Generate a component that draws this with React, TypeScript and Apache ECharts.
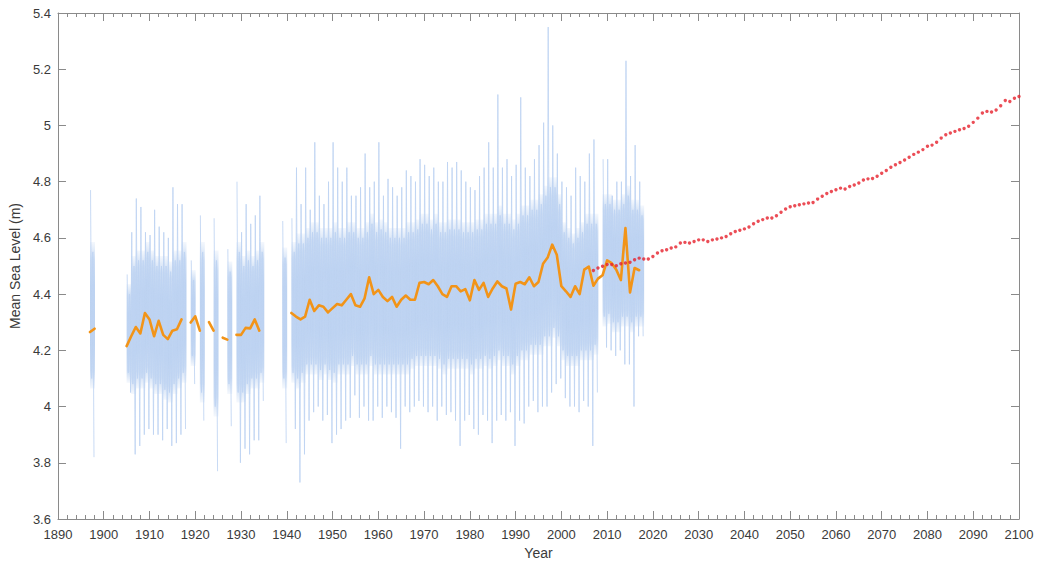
import React, { useEffect, useRef } from "react";
import * as echarts from "echarts";

// ---- Annual mean sea level (orange), years 1897..2017, null = no data ----
const obsStartYear = 1897;
const annualMean: (number | null)[] = [
  // 1897-1906
  4.265, 4.277, null, null, null, null, null, null, 4.215, 4.25,
  // 1907-1916
  4.283, 4.26, 4.333, 4.31, 4.25, 4.305, 4.255, 4.24, 4.27, 4.275,
  // 1917-1926
  4.31, null, 4.299, 4.321, 4.27, null, 4.3, 4.27, null, 4.245,
  // 1927-1936
  4.238, null, 4.255, 4.255, 4.28, 4.278, 4.31, 4.27, null, null,
  // 1937-1946
  null, null, null, null, 4.333, 4.32, 4.31, 4.32, 4.38, 4.34,
  // 1947-1956
  4.36, 4.355, 4.335, 4.35, 4.365, 4.36, 4.38, 4.4, 4.36, 4.355,
  // 1957-1966
  4.385, 4.46, 4.4, 4.415, 4.39, 4.375, 4.39, 4.355, 4.38, 4.395,
  // 1967-1976
  4.38, 4.38, 4.44, 4.443, 4.435, 4.45, 4.428, 4.4, 4.39, 4.428,
  // 1977-1986
  4.428, 4.41, 4.418, 4.378, 4.45, 4.415, 4.44, 4.39, 4.42, 4.445,
  // 1987-1996
  4.428, 4.42, 4.345, 4.437, 4.443, 4.435, 4.46, 4.428, 4.443, 4.508,
  // 1997-2006
  4.53, 4.576, 4.54, 4.428, 4.41, 4.39, 4.428, 4.4, 4.487, 4.498,
  // 2007-2016
  4.43, 4.455, 4.467, 4.52, 4.51, 4.487, 4.45, 4.635, 4.406, 4.493,
  // 2017
  4.485,
];

// ---- High-frequency record (light blue): yearly extremes and dense band ----
const blueMax: (number | null)[] = [
  4.77, null, null, null, null, null, null, null, 4.47, 4.62,
  4.74, 4.71, 4.62, 4.61, 4.7, 4.64, 4.62, 4.6, 4.78, 4.72,
  4.72, null, 4.52, null, 4.68, null, null, 4.67, null, null,
  4.56, null, 4.8, 4.62, 4.72, 4.65, 4.68, 4.75, null, null,
  null, null, 4.66, null, 4.67, 4.85, 4.72, 4.85, 4.7, 4.94,
  4.75, 4.72, 4.8, 4.94, 4.85, 4.8, 4.85, 4.75, 4.75, 4.78,
  4.9, 4.78, 4.8, 4.94, 4.75, 4.81, 4.78, 4.75, 4.78, 4.84,
  4.82, 4.8, 4.88, 4.86, 4.82, 4.85, 4.8, 4.8, 4.87, 4.85,
  4.87, 4.84, 4.8, 4.78, 4.77, 4.82, 4.85, 4.94, 4.85, 5.11,
  4.85, 4.88, 4.82, 4.86, 5.1, 4.85, 4.82, 4.88, 4.93, 5.01,
  5.35, 5.0, 4.9, 4.8, 4.78, 4.75, 4.85, 4.82, 4.8, 4.9,
  4.95, null, 4.88, 4.88, 4.75, 4.8, 4.8, 5.23, 4.82, 4.93,
  4.8,
];
const blueMin: (number | null)[] = [
  3.82, null, null, null, null, null, null, null, 4.05, 3.83,
  3.86, 3.9, 3.92, 3.9, 3.9, 3.88, 3.92, 3.86, 3.87, 3.9,
  3.92, null, 4.08, null, 3.95, null, null, 3.77, null, null,
  3.93, null, 3.8, 3.85, 3.83, 3.88, 3.88, 4.02, null, null,
  null, null, 3.87, null, 3.92, 3.73, 3.83, 3.95, 3.98, 4.0,
  3.95, 3.97, 3.87, 3.9, 3.92, 3.95, 3.96, 4.04, 3.96, 4.0,
  3.95, 3.95, 4.0, 3.96, 4.0, 3.98, 3.96, 3.85, 4.0, 3.98,
  4.0, 4.02, 4.0, 3.98, 4.0, 3.95, 4.0, 3.97, 3.98, 3.95,
  3.86, 3.95, 3.97, 3.92, 3.9, 3.97, 3.95, 3.87, 3.95, 3.97,
  3.95, 3.98, 3.86, 3.95, 3.94, 4.0, 4.02, 3.98, 4.0, 4.0,
  4.05, 4.08, 4.1, 4.03, 4.0, 4.0, 3.98, 4.02, 4.0, 3.86,
  4.05, null, 4.21, 4.2, 4.18, 4.2, 4.15, 4.15, 4.0, 4.25,
  4.25,
];
const denseHigh: (number | null)[] = [
  4.55, null, null, null, null, null, null, null, 4.4, 4.5,
  4.52, 4.52, 4.55, 4.52, 4.5, 4.5, 4.5, 4.48, 4.52, 4.52,
  4.55, null, 4.45, null, 4.55, null, null, 4.52, null, null,
  4.48, null, 4.55, 4.5, 4.52, 4.5, 4.52, 4.55, null, null,
  null, null, 4.53, null, 4.55, 4.58, 4.58, 4.6, 4.62, 4.62,
  4.6, 4.6, 4.6, 4.62, 4.6, 4.6, 4.62, 4.62, 4.6, 4.6,
  4.62, 4.65, 4.62, 4.63, 4.62, 4.6, 4.6, 4.6, 4.6, 4.62,
  4.62, 4.63, 4.65, 4.65, 4.63, 4.65, 4.62, 4.62, 4.63, 4.63,
  4.63, 4.62, 4.62, 4.62, 4.63, 4.63, 4.65, 4.65, 4.65, 4.68,
  4.65, 4.65, 4.63, 4.65, 4.68, 4.68, 4.7, 4.7, 4.72, 4.75,
  4.78, 4.78, 4.72, 4.62, 4.6, 4.58, 4.6, 4.62, 4.65, 4.65,
  4.65, null, 4.72, 4.72, 4.7, 4.7, 4.72, 4.75, 4.7, 4.7,
  4.68,
];
const denseLow: (number | null)[] = [
  4.1, null, null, null, null, null, null, null, 4.12, 4.08,
  4.1, 4.1, 4.12, 4.1, 4.08, 4.08, 4.06, 4.05, 4.08, 4.1,
  4.12, null, 4.18, null, 4.05, null, null, 4.0, null, null,
  4.08, null, 4.05, 4.05, 4.08, 4.1, 4.1, 4.12, null, null,
  null, null, 4.1, null, 4.12, 4.1, 4.12, 4.15, 4.15, 4.15,
  4.13, 4.15, 4.13, 4.12, 4.15, 4.15, 4.15, 4.18, 4.15, 4.15,
  4.15, 4.18, 4.15, 4.15, 4.15, 4.15, 4.15, 4.15, 4.15, 4.15,
  4.17, 4.18, 4.18, 4.18, 4.18, 4.18, 4.17, 4.15, 4.17, 4.17,
  4.17, 4.17, 4.17, 4.15, 4.17, 4.17, 4.18, 4.17, 4.18, 4.2,
  4.18, 4.18, 4.15, 4.18, 4.2, 4.2, 4.22, 4.22, 4.22, 4.25,
  4.25, 4.28, 4.25, 4.2, 4.18, 4.18, 4.18, 4.2, 4.2, 4.2,
  4.22, null, 4.32, 4.33, 4.3, 4.3, 4.32, 4.32, 4.3, 4.32,
  4.32,
];

// ---- Projection (red dotted), years 2007..2100 ----
const projStartYear = 2007;
const projection: number[] = [
  4.484, 4.493, 4.499, 4.505, 4.505, 4.501, 4.508, 4.511, 4.513, 4.522, // 2007-2016
  4.528, 4.525, 4.525, 4.534, 4.546, 4.554, 4.558, 4.564, 4.568, 4.582, // 2017-2026
  4.584, 4.582, 4.587, 4.593, 4.593, 4.587, 4.593, 4.596, 4.6, 4.605, // 2027-2036
  4.615, 4.623, 4.627, 4.632, 4.639, 4.65, 4.659, 4.665, 4.671, 4.671, // 2037-2046
  4.679, 4.691, 4.703, 4.711, 4.714, 4.718, 4.721, 4.724, 4.726, 4.738, // 2047-2056
  4.748, 4.758, 4.765, 4.771, 4.777, 4.774, 4.783, 4.788, 4.795, 4.806, // 2057-2066
  4.81, 4.811, 4.819, 4.83, 4.84, 4.851, 4.86, 4.868, 4.877, 4.887, // 2067-2076
  4.897, 4.905, 4.914, 4.926, 4.93, 4.94, 4.955, 4.967, 4.973, 4.979, // 2077-2086
  4.985, 4.989, 4.997, 5.011, 5.026, 5.044, 5.05, 5.048, 5.055, 5.07, // 2087-2096
  5.089, 5.085, 5.097, 5.103, // 2097-2100
];

const xTicks = { min: 1890, max: 2100, interval: 10 };
const yTicks = { min: 3.6, max: 5.4, interval: 0.2 };

const FONT = "Arial, 'Liberation Sans', Helvetica, sans-serif";
const AXIS_GRAY = "#8a8a8a";
const TEXT = "#3a3a3a";
const CORE = "185,208,240";

export default function App() {
  const ref = useRef<HTMLDivElement>(null);

  useEffect(() => {
    document.body.style.margin = "0";
    if (!ref.current) return;
    const chart = echarts.init(ref.current, undefined, { renderer: "svg" });

    const orangeData: any[] = annualMean.map((v, i) => [obsStartYear + i, v == null ? "-" : v]);
    const redData: any[] = projection.map((v, i) => [projStartYear + i, v]);

    const denseData: any[] = [];
    const spikeData: any[] = [];
    blueMax.forEach((mx, i) => {
      const yr = obsStartYear + i;
      const mn = blueMin[i];
      const hi = denseHigh[i];
      const lo = denseLow[i];
      if (mx == null || mn == null) {
        spikeData.push([yr + 0.5, "-"]);
        return;
      }
      if (hi != null && lo != null) denseData.push([yr, lo, hi]);
      spikeData.push([yr + 0.12, mx]);
      spikeData.push([yr + 0.37, lo]);
      spikeData.push([yr + 0.62, hi]);
      spikeData.push([yr + 0.87, mn]);
    });

    const xAxisBase = {
      type: "value",
      min: xTicks.min,
      max: xTicks.max,
      interval: xTicks.interval,
      splitNumber: 5,
      splitLine: { show: false },
      axisLine: { show: true, lineStyle: { color: AXIS_GRAY, width: 1 } },
      axisTick: { show: true, inside: true, length: 8, lineStyle: { color: AXIS_GRAY } },
      minorTick: { show: true, splitNumber: 5, length: 4, lineStyle: { color: AXIS_GRAY } },
    };
    const yAxisBase = {
      type: "value",
      min: yTicks.min,
      max: yTicks.max,
      interval: yTicks.interval,
      splitLine: { show: false },
      axisLine: { show: true, lineStyle: { color: AXIS_GRAY, width: 1 } },
      axisTick: { show: true, inside: true, length: 8, lineStyle: { color: AXIS_GRAY } },
    };

    chart.setOption({
      animation: false,
      backgroundColor: "#ffffff",
      grid: { left: 52, right: 20, top: 13, bottom: 46, containLabel: false },
      xAxis: [
        {
          ...xAxisBase,
          position: "bottom",
          name: "Year",
          nameLocation: "middle",
          nameGap: 26,
          nameTextStyle: { color: TEXT, fontSize: 14, fontFamily: FONT },
          axisLabel: {
            show: true,
            color: TEXT,
            fontSize: 13,
            fontFamily: FONT,
            margin: 9,
            formatter: (v: number) => String(v),
          },
        },
        {
          ...xAxisBase,
          position: "top",
          axisLabel: { show: false },
        },
      ],
      yAxis: [
        {
          ...yAxisBase,
          position: "left",
          name: "Mean Sea Level (m)",
          nameLocation: "middle",
          nameGap: 28,
          nameRotate: 90,
          nameTextStyle: { color: TEXT, fontSize: 14, fontFamily: FONT },
          axisLabel: {
            show: true,
            color: TEXT,
            fontSize: 13,
            fontFamily: FONT,
            margin: 7,
            formatter: (v: number) => String(Math.round(v * 10) / 10),
          },
        },
        {
          ...yAxisBase,
          position: "right",
          axisLabel: { show: false },
        },
      ],
      series: [
        {
          type: "custom",
          name: "dense",
          xAxisIndex: 0,
          yAxisIndex: 0,
          clip: true,
          encode: { x: 0, y: [1, 2] },
          data: denseData,
          renderItem: (params: any, api: any) => {
            const yr = api.value(0);
            const lo = api.value(1);
            const hi = api.value(2);
            const p1 = api.coord([yr, hi]);
            const p2 = api.coord([yr + 1, lo]);
            const pad = 10;
            return {
              type: "rect",
              shape: {
                x: p1[0],
                y: p1[1] - pad,
                width: p2[0] - p1[0] + 0.4,
                height: p2[1] - p1[1] + 2 * pad,
              },
              style: {
                fill: {
                  type: "linear",
                  x: 0,
                  y: 0,
                  x2: 0,
                  y2: 1,
                  colorStops: [
                    { offset: 0, color: `rgba(${CORE},0.15)` },
                    { offset: 0.12, color: `rgba(${CORE},0.75)` },
                    { offset: 0.3, color: `rgba(${CORE},0.95)` },
                    { offset: 0.7, color: `rgba(${CORE},0.95)` },
                    { offset: 0.88, color: `rgba(${CORE},0.75)` },
                    { offset: 1, color: `rgba(${CORE},0.15)` },
                  ],
                },
              },
            };
          },
          z: 1,
        },
        {
          type: "line",
          name: "record",
          data: spikeData,
          symbol: "none",
          connectNulls: false,
          lineStyle: { color: "#bed4f2", width: 0.9, opacity: 0.95 },
          z: 2,
        },
        {
          type: "line",
          name: "annual",
          data: orangeData,
          symbol: "none",
          connectNulls: false,
          lineStyle: { color: "#f29418", width: 2.6, join: "round", cap: "round" },
          z: 3,
        },
        {
          type: "scatter",
          name: "projection",
          data: redData,
          symbol: "circle",
          symbolSize: 3.4,
          itemStyle: { color: "#e6212c" },
          z: 4,
        },
      ],
    });

    return () => chart.dispose();
  }, []);

  return <div ref={ref} style={{ width: 1039, height: 565 }} />;
}
